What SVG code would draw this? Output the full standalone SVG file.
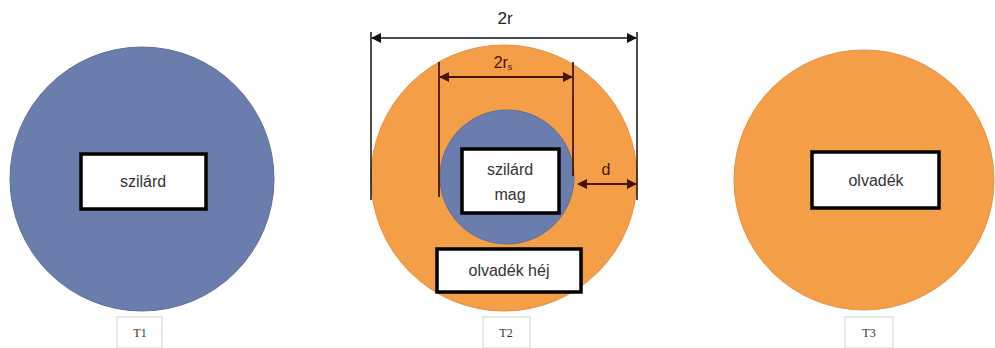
<svg xmlns="http://www.w3.org/2000/svg" width="995" height="348" viewBox="0 0 995 348">
<style>
.blue{fill:#6a7dad;stroke:#5d6f9c;stroke-width:1}
.orange{fill:#f59e48;stroke:#e8903c;stroke-width:1}
.box{fill:#fff;stroke:#000;stroke-width:3.5}
.lbl{font-family:"Liberation Sans",Arial,sans-serif;font-size:16px;fill:#333;text-anchor:middle}
.tbox{fill:#fff;stroke:#cfcfcf;stroke-width:1}
.t{font-family:"Liberation Serif",serif;font-size:12px;fill:#333;text-anchor:middle}
.dim{stroke:#111;stroke-width:1.5;fill:none}
.dimr{stroke:#4a1500;stroke-width:1.8;fill:none}
</style>
<defs>
<marker id="ak" viewBox="0 0 10 10" refX="9" refY="5" markerWidth="11" markerHeight="10" markerUnits="userSpaceOnUse" orient="auto-start-reverse"><path d="M0,0L10,5L0,10z" fill="#111"/></marker>
<marker id="ar" viewBox="0 0 10 10" refX="9" refY="5" markerWidth="11" markerHeight="10" markerUnits="userSpaceOnUse" orient="auto-start-reverse"><path d="M0,0L10,5L0,10z" fill="#4a1500"/></marker>
</defs>
<g id="T1">
<circle class="blue" cx="142" cy="179" r="132"/>
<rect class="box" x="81" y="154" width="125" height="55"/>
<text class="lbl" x="143" y="187">szilárd</text>
<rect class="tbox" x="117" y="317" width="45" height="31"/>
<text class="t" x="140" y="337">T1</text>
</g>
<g id="T2">
<circle class="orange" cx="504" cy="178" r="133"/>
<circle class="blue" cx="507" cy="177" r="67"/>
<rect class="box" x="462" y="149" width="97" height="64"/>
<text class="lbl" x="510" y="175">szilárd</text>
<text class="lbl" x="510" y="200">mag</text>
<rect class="box" x="437" y="249" width="144" height="43"/>
<text class="lbl" x="509" y="276">olvadék héj</text>
<rect class="tbox" x="483" y="317" width="47" height="31"/>
<text class="t" x="506" y="337">T2</text>
</g>
<g id="T3">
<circle class="orange" cx="864" cy="180" r="130"/>
<rect class="box" x="812" y="152" width="127" height="56"/>
<text class="lbl" x="876" y="186">olvadék</text>
<rect class="tbox" x="845" y="317" width="48" height="31"/>
<text class="t" x="869" y="337">T3</text>
</g>
<g id="connectors">
<line class="dim" x1="371" y1="32" x2="371" y2="200"/>
<line class="dim" x1="637" y1="32" x2="637" y2="200"/>
<line class="dim" x1="372" y1="38" x2="636" y2="38" marker-start="url(#ak)" marker-end="url(#ak)"/>
<text x="505" y="24" font-family="Liberation Sans,Arial,sans-serif" font-size="17" fill="#222" text-anchor="middle">2r</text>
<line class="dimr" x1="439" y1="62" x2="439" y2="197"/>
<line class="dimr" x1="573" y1="62" x2="573" y2="176"/>
<line class="dimr" x1="440" y1="77" x2="572" y2="77" marker-start="url(#ar)" marker-end="url(#ar)"/>
<text x="503" y="68" font-family="Liberation Sans,Arial,sans-serif" font-size="16" fill="#4a1500" text-anchor="middle">2r<tspan font-size="9" dy="2">s</tspan></text>
<line class="dimr" x1="578" y1="184" x2="636" y2="184" marker-start="url(#ar)" marker-end="url(#ar)"/>
<text x="606" y="175" font-family="Liberation Sans,Arial,sans-serif" font-size="16" fill="#4a1500" text-anchor="middle">d</text>
</g>
</svg>
